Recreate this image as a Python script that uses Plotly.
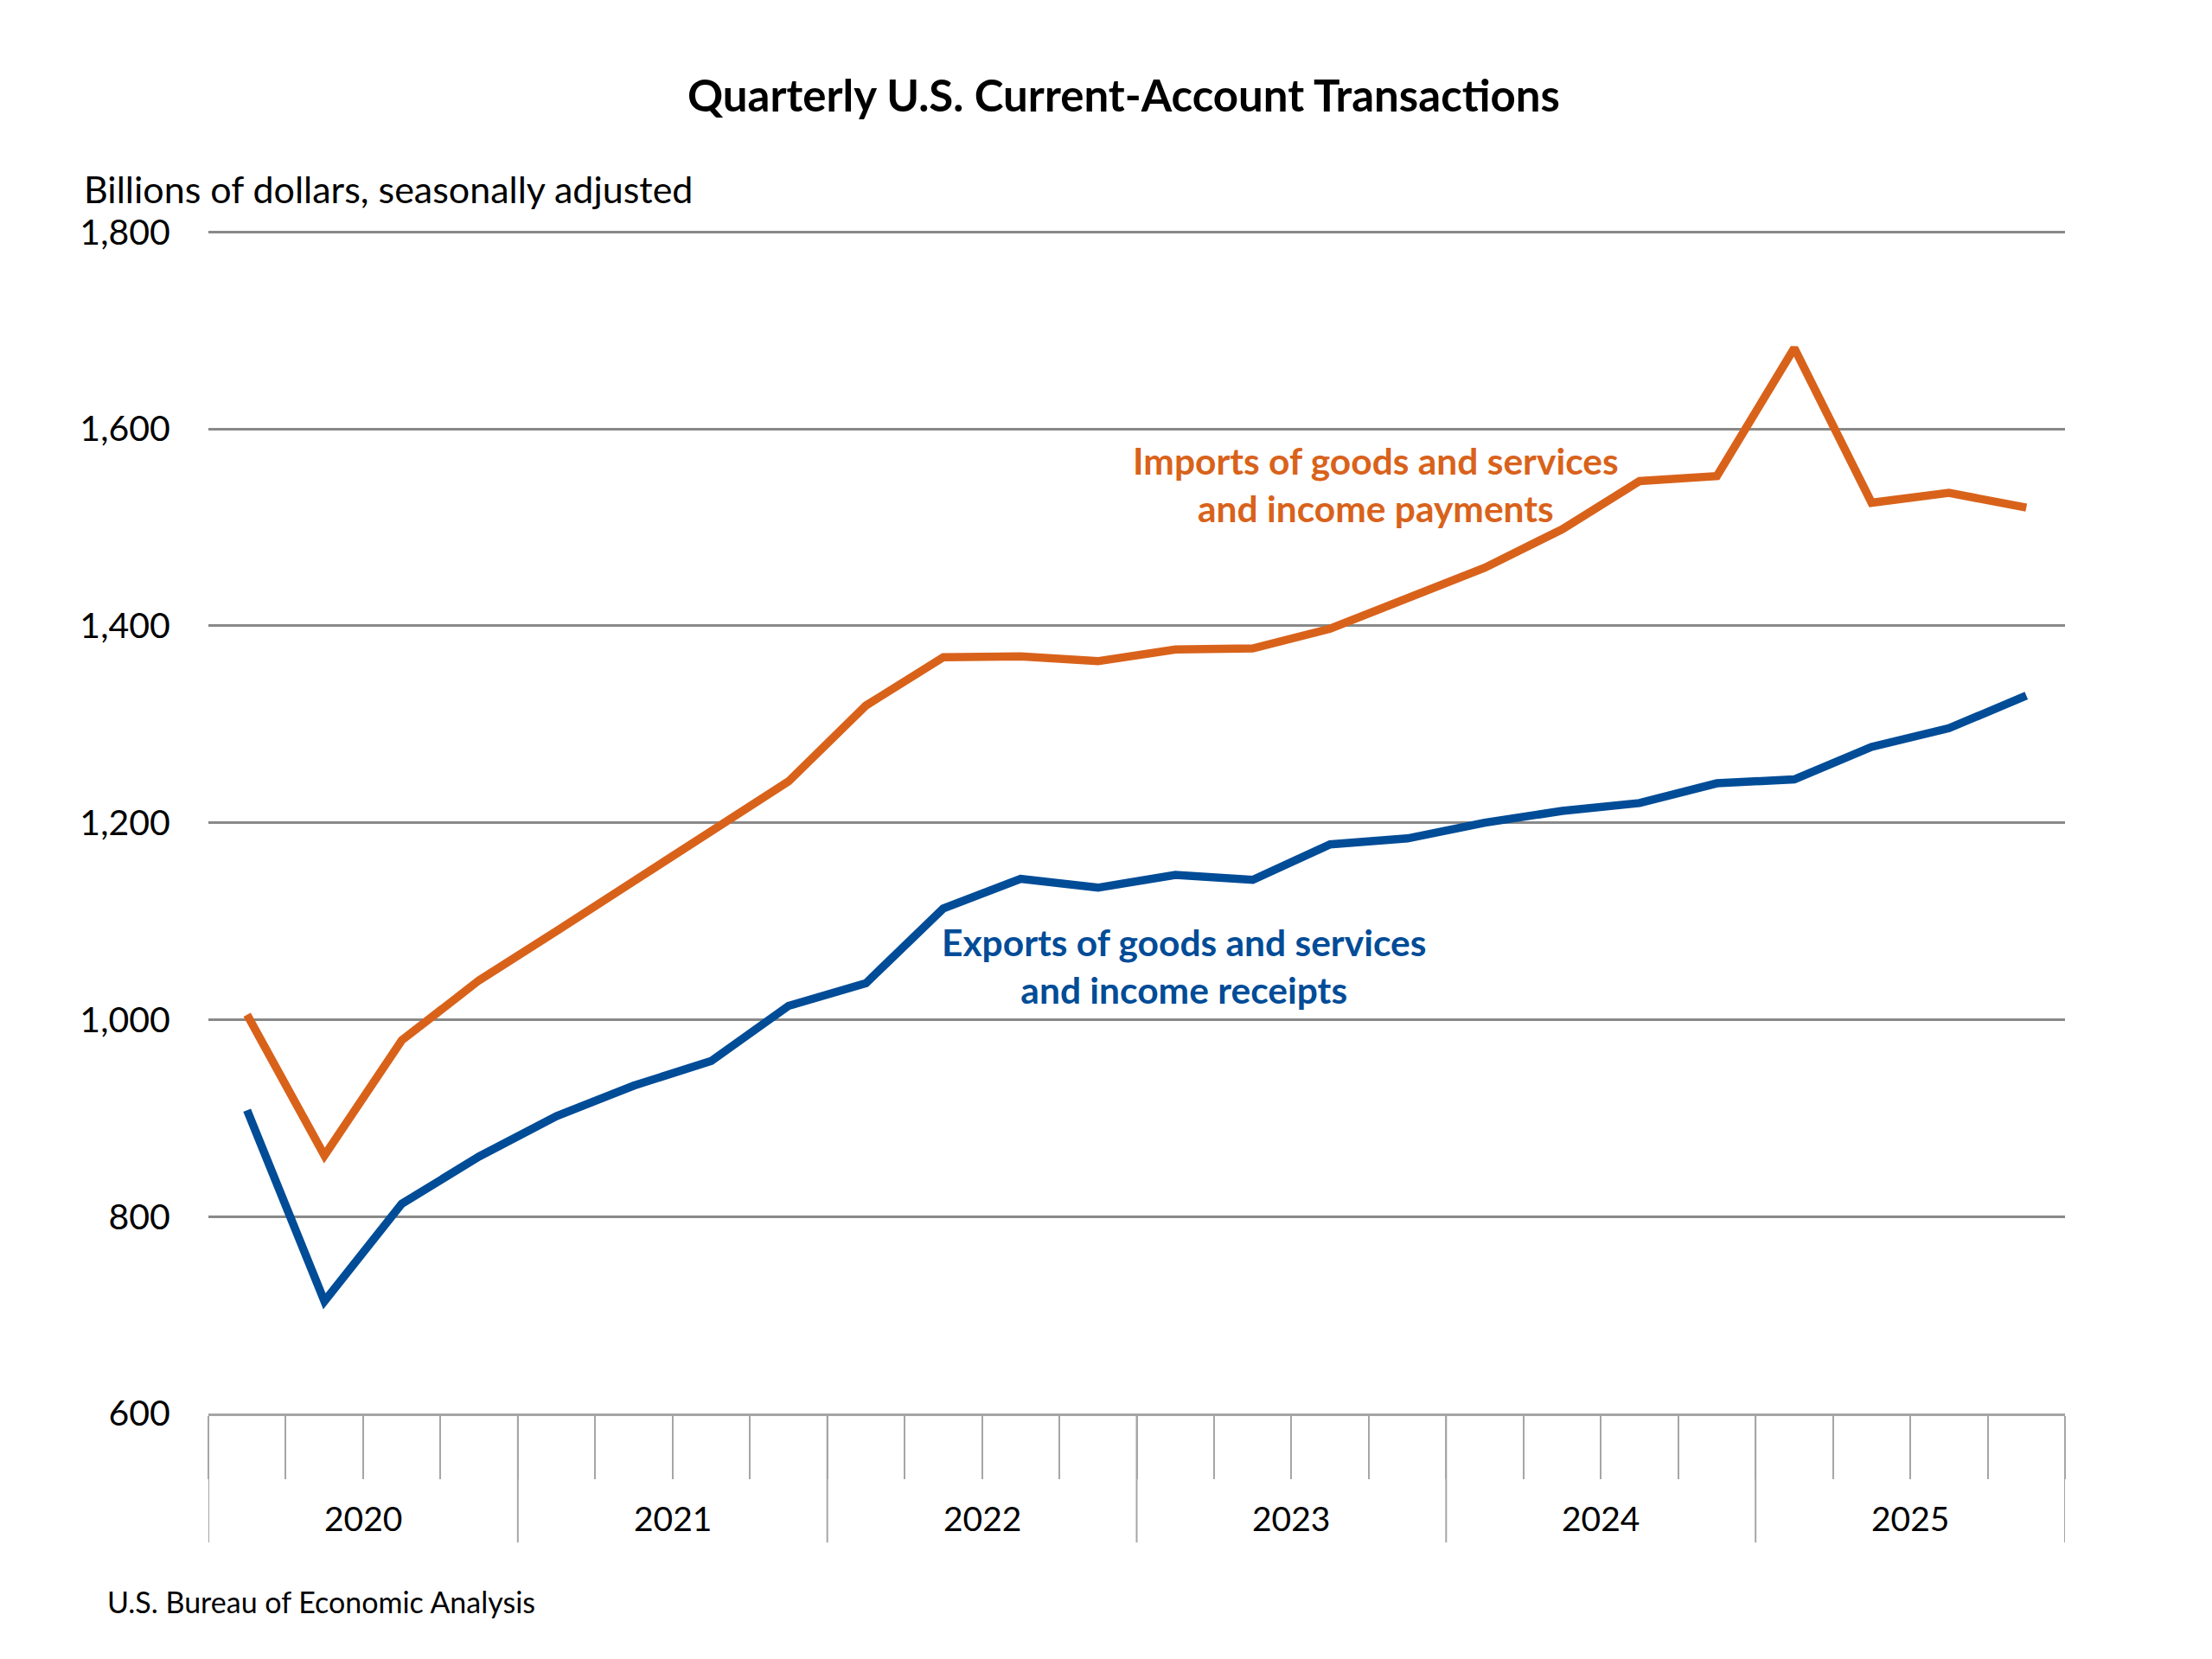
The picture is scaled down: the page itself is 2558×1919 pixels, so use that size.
import plotly.graph_objects as go

years = ["2020", "2021", "2022", "2023", "2024", "2025"]
quarters = ["Q1", "Q2", "Q3", "Q4"]
periods = [f"{y} {q}" for y in years for q in quarters]

exports = [908, 714, 813, 861, 902, 933, 958, 1014, 1037, 1113, 1143, 1134,
           1147, 1142, 1178, 1184, 1200, 1212, 1220, 1240, 1244, 1277, 1296, 1329]
imports = [1005, 862, 979, 1040, 1090, 1141, 1190, 1242, 1319, 1368, 1369, 1364,
           1376, 1377, 1397, 1427, 1459, 1498, 1547, 1552, 1682, 1525, 1535, 1520]

y_ticks = [600, 800, 1000, 1200, 1400, 1600, 1800]

ORANGE = "#D9621B"
BLUE = "#004C97"
FONT = "Lato"

xi = list(range(len(periods)))

fig = go.Figure()
fig.add_trace(go.Scatter(x=xi, y=imports, mode="lines", name="Imports",
                         line=dict(color=ORANGE, width=9.5), hoverinfo="skip",
                         customdata=periods))
fig.add_trace(go.Scatter(x=xi, y=exports, mode="lines", name="Exports",
                         line=dict(color=BLUE, width=9.5), hoverinfo="skip",
                         customdata=periods))

boundaries = [i - 0.5 for i in range(len(periods) + 1)]
year_bounds = [i * 4 - 0.5 for i in range(len(years) + 1)]
year_centers = [i * 4 + 1.5 for i in range(len(years))]

shapes = []
for b in year_bounds:
    shapes.append(dict(type="line", xref="x", yref="paper", x0=b, x1=b, y0=0, y1=-0.109,
                       line=dict(color="#A6A6A6", width=2), layer="below"))

annotations = []
for yr, c in zip(years, year_centers):
    annotations.append(dict(x=c, y=-0.0885, xref="x", yref="paper", text=yr, showarrow=False,
                            xanchor="center", yanchor="middle",
                            font=dict(family=FONT, size=39, color="black")))

annotations.append(dict(x=-0.068, y=1.035, xref="paper", yref="paper",
                        text="Billions of dollars, seasonally adjusted", showarrow=False,
                        xanchor="left", yanchor="middle",
                        font=dict(family=FONT, size=43, color="black")))
annotations.append(dict(x=-0.0554, y=-0.1587, xref="paper", yref="paper",
                        text="U.S. Bureau of Economic Analysis", showarrow=False,
                        xanchor="left", yanchor="middle",
                        font=dict(family=FONT, size=34, color="black")))
annotations.append(dict(x=14.59, y=1544, xref="x", yref="y",
                        text="<b>Imports of goods and services<br>and income payments</b>",
                        showarrow=False, xanchor="center", yanchor="middle", align="center",
                        font=dict(family=FONT, size=42.5, color=ORANGE)))
annotations.append(dict(x=12.11, y=1055, xref="x", yref="y",
                        text="<b>Exports of goods and services<br>and income receipts</b>",
                        showarrow=False, xanchor="center", yanchor="middle", align="center",
                        font=dict(family=FONT, size=42.5, color=BLUE)))

fig.update_layout(
    width=2558, height=1919,
    margin=dict(l=241, r=170, t=266, b=284),
    paper_bgcolor="white", plot_bgcolor="white",
    showlegend=False,
    title=dict(text="<b>Quarterly U.S. Current-Account Transactions</b>",
               x=0.508, xref="container", xanchor="center", y=0.942, yanchor="middle",
               font=dict(family=FONT, size=51, color="black")),
    shapes=shapes, annotations=annotations,
)

fig.update_xaxes(range=[-0.5, len(periods) - 0.5], tickvals=boundaries,
                 ticktext=[""] * len(boundaries), ticks="outside", ticklen=73,
                 tickwidth=2, tickcolor="#A6A6A6", showgrid=False, zeroline=False,
                 showline=True, linecolor="#A5A5A5", linewidth=3, fixedrange=True)
fig.update_yaxes(range=[600, 1802], tickvals=y_ticks, tickformat=",",
                 ticks="outside", ticklen=35, tickcolor="rgba(0,0,0,0)",
                 showgrid=True, gridcolor="#898989", gridwidth=2.5, zeroline=False,
                 showline=False, tickfont=dict(family=FONT, size=41, color="black"),
                 fixedrange=True)

fig.write_html("out.html", config={"displayModeBar": False},
               post_script="document.body.style.margin='0';")
